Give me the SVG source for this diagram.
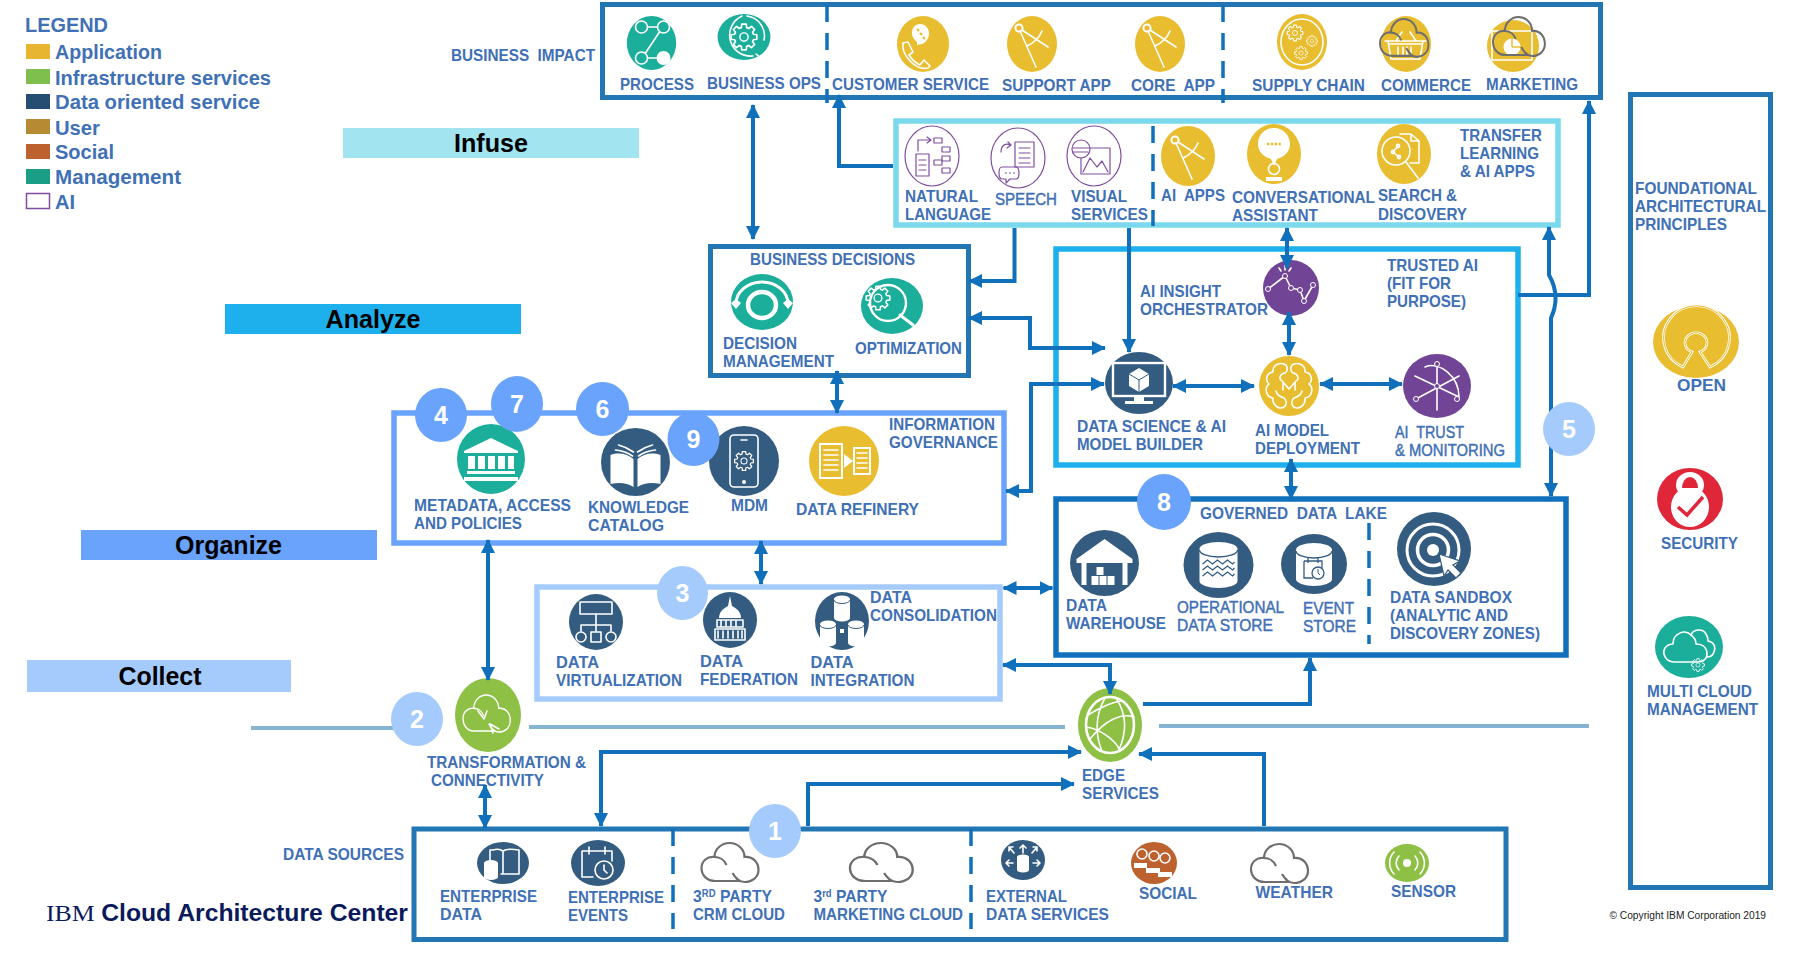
<svg xmlns="http://www.w3.org/2000/svg" width="1802" height="962" viewBox="0 0 1802 962">
<style>
text{font-family:"Liberation Sans",Arial,sans-serif;white-space:pre}
.t{font-size:16.5px;font-weight:700;fill:#4070b5}
.r{font-size:16.5px;font-weight:400;fill:#4070b5;stroke:#4070b5;stroke-width:.45}
.lg{font-size:20px;font-weight:700;fill:#4070b5}
.b{font-size:26px;font-weight:700;fill:#000;text-anchor:middle}
.n{font-size:25px;font-weight:700;fill:#fff;text-anchor:middle}
.box{fill:#fff;stroke:#2376b4;stroke-width:5}
.boxn{fill:none;stroke-width:5.5}
.dv{fill:none;stroke:#1070bb;stroke-width:3.5;stroke-dasharray:17 11}
.w{fill:none;stroke:#fff;stroke-width:1.6;stroke-linecap:round;stroke-linejoin:round}
.wt{fill:none;stroke:#fff;stroke-width:3;stroke-linecap:round;stroke-linejoin:round}
.wf{fill:#fff}
.p{fill:none;stroke:#7f4ea0;stroke-width:1.2;stroke-linecap:round;stroke-linejoin:round}
.g{fill:none;stroke:#6e6e6e;stroke-width:2.2}
.y{fill:#e9bd30}.tl{fill:#1bae9a}.dk{fill:#335c80}.pu{fill:#714496}.gn{fill:#8dc044}
.c{fill:none;stroke:#1070bb;stroke-width:4;stroke-linejoin:miter}
.a{marker-end:url(#ah)}
.d{marker-start:url(#ah);marker-end:url(#ah)}
.rule{fill:none;stroke:#85b3d3;stroke-width:4}
</style>
<defs>
<marker id="ah" markerUnits="userSpaceOnUse" markerWidth="15" markerHeight="15" refX="13" refY="7.5" orient="auto-start-reverse"><path d="M0 .5L14 7.5L0 14.5z" fill="#1070bb"/></marker>
<g id="cloud"><path d="M14 38C5 38 0 32 0 25C0 18 6 13 13 14C13 6 20 0 28 0C36 0 43 6 43 14C51 13 57 19 57 27C57 34 51 39 43 39C37 39 34 35 31 30M13 14C18 14 23 17 25 22M14 38L38 38"/></g>
<g id="gear"><path fill="none" stroke="#fff" stroke-width="1.3" stroke-linejoin="round" d="M7.2-2.1L9.85-1.74V1.74L7.2 2.1L6.56 3.64L8.19 5.74L5.74 8.19L3.64 6.56L2.07 7.21L1.74 9.85H-1.74L-2.07 7.21L-3.64 6.56L-5.74 8.19L-8.19 5.74L-6.56 3.64L-7.2 2.1L-9.85 1.74V-1.74L-7.2-2.1L-6.56-3.64L-8.19-5.74L-5.74-8.19L-3.64-6.56L-2.07-7.21L-1.74-9.85H1.74L2.07-7.21L3.64-6.56L5.74-8.19L8.19-5.74L6.56-3.64z"/><circle r="3.2" fill="none" stroke="#fff" stroke-width="1.1"/></g>
<g id="compass"><circle cx="-13" cy="-16" r="3.6" fill="none" stroke="#fff" stroke-width="2"/><path class="w" d="M-12-13L4 23M-10-14L16 3M10-13Q6-3-5 2"/></g>
</defs>

<g id="legend">
<text class="lg" x="25" y="32" textLength="83" lengthAdjust="spacingAndGlyphs">LEGEND</text>
<rect x="26" y="44" width="24" height="15" fill="#e8b530"/><text class="lg" x="55" y="59" textLength="107" lengthAdjust="spacingAndGlyphs">Application</text>
<rect x="26" y="69" width="24" height="15" fill="#7fbf4d"/><text class="lg" x="55" y="85" textLength="216" lengthAdjust="spacingAndGlyphs">Infrastructure services</text>
<rect x="26" y="94" width="24" height="15" fill="#264e73"/><text class="lg" x="55" y="109" textLength="205" lengthAdjust="spacingAndGlyphs">Data oriented service</text>
<rect x="26" y="119" width="24" height="15" fill="#b58a33"/><text class="lg" x="55" y="135" textLength="45" lengthAdjust="spacingAndGlyphs">User</text>
<rect x="26" y="144" width="24" height="15" fill="#bd612f"/><text class="lg" x="55" y="159" textLength="59" lengthAdjust="spacingAndGlyphs">Social</text>
<rect x="26" y="169" width="24" height="15" fill="#1a9e85"/><text class="lg" x="55" y="184" textLength="126" lengthAdjust="spacingAndGlyphs">Management</text>
<rect x="26.5" y="193.5" width="23" height="15" fill="#fff" stroke="#7f4ea0" stroke-width="1.5"/><text class="lg" x="55" y="209" textLength="20" lengthAdjust="spacingAndGlyphs">AI</text>
</g>

<g id="bands">
<rect x="343" y="128" width="296" height="30" fill="#a2e5f1"/><text class="b" x="491" y="152" textLength="74" lengthAdjust="spacingAndGlyphs">Infuse</text>
<rect x="225" y="304" width="296" height="30" fill="#1eb0ec"/><text class="b" x="373" y="328" textLength="95" lengthAdjust="spacingAndGlyphs">Analyze</text>
<rect x="81" y="530" width="296" height="30" fill="#6aa3fb"/><text class="b" x="228.500" y="554" textLength="107" lengthAdjust="spacingAndGlyphs">Organize</text>
<rect x="27" y="660" width="264" height="32" fill="#a5cbfd"/><text class="b" x="160" y="685" textLength="83" lengthAdjust="spacingAndGlyphs">Collect</text>
</g>

<g id="rules">
<path class="rule" d="M251 728H393M529 727H1065M1159 726H1589"/>
</g>

<g id="container-business-impact">
<rect class="box" x="602.5" y="4.5" width="998" height="93"/>
<path class="dv" d="M827 5V103M1223 5V103"/>
<text class="t" x="451" y="61" textLength="144" lengthAdjust="spacingAndGlyphs">BUSINESS  IMPACT</text>
</g>
<g id="container-ai-services">
<rect class="boxn" x="896" y="121" width="662" height="104" fill="#fff" stroke="#7bd9ed"/>
<path class="dv" d="M1153 126V226"/>
<text class="t" x="1460" y="141" textLength="82" lengthAdjust="spacingAndGlyphs">TRANSFER</text>
<text class="t" x="1460" y="159" textLength="79" lengthAdjust="spacingAndGlyphs">LEARNING</text>
<text class="t" x="1460" y="177" textLength="75" lengthAdjust="spacingAndGlyphs">&amp; AI APPS</text>
</g>
<g id="container-business-decisions">
<rect class="box" x="710.5" y="246.500" width="258" height="129"/>
<text class="t" x="750" y="265" textLength="165" lengthAdjust="spacingAndGlyphs">BUSINESS DECISIONS</text>
</g>
<g id="container-information-governance">
<rect class="boxn" x="394" y="413" width="610" height="130" fill="#fff" stroke="#6aa3fb"/>
<text class="t" x="889" y="430" textLength="106" lengthAdjust="spacingAndGlyphs">INFORMATION</text>
<text class="t" x="889" y="448" textLength="109" lengthAdjust="spacingAndGlyphs">GOVERNANCE</text>
</g>
<g id="container-data-consolidation">
<rect class="boxn" x="537" y="587" width="463" height="112" fill="#fff" stroke="#a5cbfd"/>
<text class="t" x="870" y="603" textLength="42" lengthAdjust="spacingAndGlyphs">DATA</text>
<text class="t" x="870" y="621" textLength="127" lengthAdjust="spacingAndGlyphs">CONSOLIDATION</text>
</g>
<g id="container-trusted-ai">
<rect class="boxn" x="1056" y="249" width="462" height="216" fill="#fff" stroke="#1eb0ec"/>
<text class="t" x="1387" y="271" textLength="91" lengthAdjust="spacingAndGlyphs">TRUSTED AI</text>
<text class="t" x="1387" y="289" textLength="64" lengthAdjust="spacingAndGlyphs">(FIT FOR</text>
<text class="t" x="1387" y="307" textLength="79" lengthAdjust="spacingAndGlyphs">PURPOSE)</text>
</g>
<g id="container-governed-data-lake">
<rect class="boxn" x="1056" y="499" width="510" height="156" fill="#fff" stroke="#1070bb"/>
<path class="dv" d="M1369 523V644"/>
<text class="t" x="1200" y="519" textLength="187" lengthAdjust="spacingAndGlyphs">GOVERNED  DATA  LAKE</text>
</g>
<g id="container-data-sources">
<rect class="box" x="414" y="829" width="1092" height="110.5"/>
<path class="dv" d="M673 829V929M971 829V929"/>
<text class="t" x="283" y="860" textLength="121" lengthAdjust="spacingAndGlyphs">DATA SOURCES</text>
</g>
<g id="container-foundational">
<rect class="box" x="1630.5" y="94.5" width="140" height="793"/>
<text class="t" x="1635" y="194" textLength="122" lengthAdjust="spacingAndGlyphs">FOUNDATIONAL</text>
<text class="t" x="1635" y="212" textLength="131" lengthAdjust="spacingAndGlyphs">ARCHITECTURAL</text>
<text class="t" x="1635" y="230" textLength="92" lengthAdjust="spacingAndGlyphs">PRINCIPLES</text>
</g>

<g id="node-process"><ellipse class="tl" cx="651.5" cy="43" rx="24.7" ry="27"/>
<g transform="translate(651.5 43)"><circle class="w" cx="-10" cy="-16" r="6"/><circle class="w" cx="12" cy="-16" r="6"/><circle class="w" cx="-10" cy="15" r="6"/><circle class="wf" cx="12" cy="15" r="7"/><path class="w" d="M-4-16H6M8-11L-6 10M-4 15H5"/></g>
<text class="t" x="620" y="90" textLength="74" lengthAdjust="spacingAndGlyphs">PROCESS</text></g>
<g id="node-business-ops"><ellipse class="tl" cx="744" cy="37" rx="26.5" ry="23"/>
<g transform="translate(744 37)"><path class="w" stroke-width="2" d="M-2-21A21 21 0 0 0 9 19M3-21A20 20 0 0 1 20 3M12 17L17 21"/><path class="wf" d="M0 0"/><use href="#gear" transform="scale(1.3)"/></g>
<text class="t" x="707" y="89" textLength="114" lengthAdjust="spacingAndGlyphs">BUSINESS OPS</text></g>
<g id="node-customer-service"><ellipse class="y" cx="923" cy="44" rx="26" ry="28"/>
<g transform="translate(923 44)"><path class="w" d="M-20-1L-15-2L-10 8L-14 11C-11 16-7 19-3 21L1 16L7 22L5 24C-8 27-22 10-20-1z"/><path class="wf" d="M-3-20C3-20 6-15 6-10C6-5 2-1-1 0L-6 1L-6-2C-10-5-11-9-11-11C-11-16-8-20-3-20z"/><path d="M-6-15l2 2M-3-11l2 2M0-7l2 2" stroke="#e9bd30" stroke-width="2.2"/></g>
<text class="t" x="832" y="90" textLength="157" lengthAdjust="spacingAndGlyphs">CUSTOMER SERVICE</text></g>
<g id="node-support-app"><ellipse class="y" cx="1032" cy="44" rx="25" ry="28"/><use href="#compass" x="1032" y="44"/>
<text class="t" x="1002" y="91" textLength="109" lengthAdjust="spacingAndGlyphs">SUPPORT APP</text></g>
<g id="node-core-app"><ellipse class="y" cx="1160" cy="44" rx="25" ry="28"/><use href="#compass" x="1160" y="44"/>
<text class="t" x="1131" y="91" textLength="84" lengthAdjust="spacingAndGlyphs">CORE  APP</text></g>
<g id="node-supply-chain"><ellipse class="y" cx="1302" cy="42" rx="25" ry="28"/>
<g transform="translate(1302 42)"><ellipse class="w" rx="21" ry="23"/><use href="#gear" transform="translate(-7 -9) scale(.8)"/><use href="#gear" transform="translate(10 -1) scale(.55)"/><use href="#gear" transform="translate(-1 11) scale(.65)"/></g>
<text class="t" x="1252" y="91" textLength="113" lengthAdjust="spacingAndGlyphs">SUPPLY CHAIN</text></g>
<g id="node-commerce"><ellipse class="y" cx="1406" cy="44" rx="25" ry="28"/>
<g transform="translate(1406 44)"><path class="w" d="M-21-3H20M-18-3L-15 15H14L17-3M-10-3L-4-12M10-3L4-12M-17 0H16M-3 3V11M1 3V11M5 3V11M-8 3V11"/></g>
<use href="#cloud" class="g" transform="translate(1380 19) scale(.85 .97)"/>
<text class="t" x="1381" y="91" textLength="90" lengthAdjust="spacingAndGlyphs">COMMERCE</text></g>
<g id="node-marketing"><ellipse class="y" cx="1513" cy="46" rx="26" ry="26"/>
<path class="w" d="M1492 31H1532V60H1492z"/><circle class="wf" cx="1512" cy="47" r="8.500"/><path d="M1512 47V38M1512 47H1521" stroke="#e9bd30" stroke-width="1.5"/>
<use href="#cloud" class="g" transform="translate(1493 17) scale(.91 1)"/>
<text class="t" x="1486" y="90" textLength="92" lengthAdjust="spacingAndGlyphs">MARKETING</text></g>

<g id="node-natural-language"><ellipse cx="932" cy="156" rx="27" ry="30" fill="#fff" stroke="#7f4ea0" stroke-width="1.2"/>
<g class="p" transform="translate(932 156)"><path class="p" d="M-14-5V-16H-2M-5-19L-1-16L-5-13M-16-2H-3V20H-16zM-13 4H-6M-13 9H-6M-13 14H-6"/><rect class="p" x="2" y="-18" width="8" height="5"/><rect class="p" x="10" y="-9" width="8" height="5"/><rect class="p" x="10" y="0" width="8" height="5"/><rect class="p" x="2" y="4" width="8" height="5"/><rect class="p" x="10" y="12" width="8" height="5"/></g>
<text class="t" x="905" y="202" textLength="73" lengthAdjust="spacingAndGlyphs">NATURAL</text>
<text class="t" x="905" y="220" textLength="86" lengthAdjust="spacingAndGlyphs">LANGUAGE</text></g>
<g id="node-speech"><ellipse cx="1018" cy="158" rx="27" ry="30" fill="#fff" stroke="#7f4ea0" stroke-width="1.2"/>
<g transform="translate(1018 158)"><path class="p" d="M-3-16H16V9H-3zM1-10H12M1-5H12M1 0H12M1 5H12"/><path class="p" d="M-17-6C-17-13-12-15-8-13M-10-16L-7-13L-11-10M-16 9H-2C2 9 2 21-2 21H-8L-12 25V21H-16C-20 21-20 9-16 9z"/><path d="M-13 15h2M-9 15h2M-5 15h2" stroke="#7f4ea0" stroke-width="1.2"/></g>
<text class="r" x="995" y="205" textLength="62" lengthAdjust="spacingAndGlyphs">SPEECH</text></g>
<g id="node-visual-services"><ellipse cx="1094" cy="156" rx="27" ry="30" fill="#fff" stroke="#7f4ea0" stroke-width="1.2"/>
<g transform="translate(1094 156)"><path class="p" d="M-13-8H16V18H-13zM-11 16L-4 2L3 11L8 5L14 16"/><circle cx="-13" cy="-7" r="9" fill="#fff" stroke="#7f4ea0" stroke-width="1.2"/><path class="p" d="M-21-8H-5M-21-4H-6"/></g>
<text class="t" x="1071" y="202" textLength="56" lengthAdjust="spacingAndGlyphs">VISUAL</text>
<text class="t" x="1071" y="220" textLength="77" lengthAdjust="spacingAndGlyphs">SERVICES</text></g>
<g id="node-ai-apps"><ellipse class="y" cx="1188" cy="156" rx="27" ry="30"/><use href="#compass" x="1188" y="156"/>
<text class="t" x="1161" y="201" textLength="64" lengthAdjust="spacingAndGlyphs">AI  APPS</text></g>
<g id="node-conversational"><ellipse class="y" cx="1274" cy="154" rx="27" ry="30"/>
<g transform="translate(1274 154)"><path class="wf" d="M-16-10C-16-20-8-26 0-26C10-26 16-18 16-10C16-2 10 3 3 5L0 12L-3 5C-10 3-16-2-16-10z"/><path d="M-7-10h14" stroke="#e9bd30" stroke-width="2.6" stroke-dasharray="2.4 1.4"/><circle class="w" cy="15" r="5.5"/><path class="wf" d="M-8 23H8V27H-8z"/></g>
<text class="t" x="1232" y="203" textLength="143" lengthAdjust="spacingAndGlyphs">CONVERSATIONAL</text>
<text class="t" x="1232" y="221" textLength="86" lengthAdjust="spacingAndGlyphs">ASSISTANT</text></g>
<g id="node-search"><ellipse class="y" cx="1404" cy="154" rx="27" ry="30"/>
<g transform="translate(1404 154)"><path class="w" d="M-4-20H7L15-13V9H6M7-20V-13H15"/><circle class="w" cx="-8" cy="-3" r="14"/><path class="w" d="M2 8L14 24M-6-8L-11-2L-5 3"/><circle class="w" cx="-6" cy="-8" r="1.6"/><circle class="w" cx="-11" cy="-2" r="1.6"/><circle class="w" cx="-5" cy="3" r="1.6"/></g>
<text class="t" x="1378" y="201" textLength="79" lengthAdjust="spacingAndGlyphs">SEARCH &amp;</text>
<text class="t" x="1378" y="220" textLength="89" lengthAdjust="spacingAndGlyphs">DISCOVERY</text></g>

<g id="node-decision-management"><ellipse class="tl" cx="762" cy="302" rx="31" ry="28"/>
<g transform="translate(762 302)"><ellipse cy="3" rx="14" ry="13" fill="none" stroke="#fff" stroke-width="4.5"/><path fill="none" stroke="#fff" stroke-width="3" d="M-26 2A26 22 0 0 1 26 2"/><path class="wf" d="M-31 1H-21L-26 7zM-31 1L-26-3L-21 1zM31 1H21L26 7zM31 1L26-3L21 1z"/></g>
<text class="t" x="723" y="349" textLength="74" lengthAdjust="spacingAndGlyphs">DECISION</text>
<text class="t" x="723" y="367" textLength="111" lengthAdjust="spacingAndGlyphs">MANAGEMENT</text></g>
<g id="node-optimization"><ellipse class="tl" cx="892" cy="306" rx="31" ry="28"/>
<g transform="translate(892 306)"><circle cx="-4" cy="-3" r="18" fill="none" stroke="#fff" stroke-width="2.4"/><path class="wt" d="M8 9L21 19" stroke-width="5"/><use href="#gear" transform="translate(-14 -8) scale(1.2)"/></g>
<text class="t" x="855" y="354" textLength="107" lengthAdjust="spacingAndGlyphs">OPTIMIZATION</text></g>

<g id="node-metadata"><ellipse class="tl" cx="491" cy="459" rx="34" ry="35"/>
<g transform="translate(491 459)"><path class="wf" d="M0-21L27-8V-6H-27V-8zM-24 12H24V15H-24zM-27 18H27V22H-27z"/><path class="wf" d="M-23-3h7V10h-7zM-13-3h7V10h-7zM-3-3h7V10h-7zM7-3h7V10h-7zM17-3h6V10h-6z"/></g>
<text class="t" x="414" y="511" textLength="157" lengthAdjust="spacingAndGlyphs">METADATA, ACCESS</text>
<text class="t" x="414" y="529" textLength="108" lengthAdjust="spacingAndGlyphs">AND POLICIES</text></g>
<g id="node-knowledge-catalog"><ellipse class="dk" cx="635.5" cy="462" rx="34.5" ry="34"/>
<g transform="translate(635.5 462)"><path class="wf" d="M-25-7C-16-10-8-8-2-3V25C-8 21-16 20-25 22zM25-7C16-10 8-8 2-3V25C8 21 16 20 25 22z"/><path class="w" d="M-17-17Q-9-15-2-10M17-17Q9-15 2-10M-20-12Q-10-11-3-6M20-12Q10-11 3-6"/></g>
<text class="t" x="588" y="513" textLength="101" lengthAdjust="spacingAndGlyphs">KNOWLEDGE</text>
<text class="t" x="588" y="531" textLength="76" lengthAdjust="spacingAndGlyphs">CATALOG</text></g>
<g id="node-mdm"><ellipse class="dk" cx="744" cy="461" rx="35" ry="35"/>
<g transform="translate(744 461)"><rect class="w" x="-14" y="-26" width="28" height="52" rx="4" stroke-width="2"/><path class="w" d="M-3-21H3"/><circle class="wf" cy="21" r="2"/><use href="#gear" transform="scale(.95)"/></g>
<text class="t" x="731" y="511" textLength="37" lengthAdjust="spacingAndGlyphs">MDM</text></g>
<g id="node-data-refinery"><ellipse class="y" cx="844" cy="461" rx="35" ry="35"/>
<g transform="translate(844 461)"><rect x="-24" y="-17" width="22" height="34" fill="none" stroke="#fff" stroke-width="2"/><rect x="10" y="-13" width="16" height="26" fill="none" stroke="#fff" stroke-width="2"/><path class="wf" d="M0-7L9 0L0 7z"/><path class="w" d="M-20-11H-6M-20-6H-6M-20-1H-6M-20 4H-6M-20 9H-6M13-8H23M13-3H23M13 2H23M13 7H23"/></g>
<text class="t" x="796" y="515" textLength="123" lengthAdjust="spacingAndGlyphs">DATA REFINERY</text></g>

<g id="node-data-virtualization"><ellipse class="dk" cx="596" cy="622" rx="27" ry="28"/>
<g transform="translate(596 622)"><rect class="w" x="-16" y="-20" width="32" height="12" stroke-width="2"/><path class="w" d="M0-8V3M-15 3H15M-15 3V9M0 3V9M15 3V9" stroke-width="2"/><circle class="w" cx="-15" cy="15" r="5" stroke-width="2"/><rect class="w" x="-5" y="10" width="10" height="10" stroke-width="2"/><circle class="w" cx="15" cy="15" r="5" stroke-width="2"/></g>
<text class="t" x="556" y="668" textLength="43" lengthAdjust="spacingAndGlyphs">DATA</text>
<text class="t" x="556" y="686" textLength="126" lengthAdjust="spacingAndGlyphs">VIRTUALIZATION</text></g>
<g id="node-data-federation"><ellipse class="dk" cx="730" cy="620" rx="27" ry="28"/>
<g transform="translate(730 620)"><path class="wf" d="M0-24L2-14C8-11 11-7 11-2H-11C-11-7-8-11-2-14z"/><path class="w" d="M-13 0H13V7H-13zM-9 1V6M-4 1V6M1 1V6M6 1V6M-15 9H15V20H-15zM-12 11V18M-7 11V18M-2 11V18M3 11V18M8 11V18M12 11V18"/></g>
<text class="t" x="700" y="667" textLength="43" lengthAdjust="spacingAndGlyphs">DATA</text>
<text class="t" x="700" y="685" textLength="98" lengthAdjust="spacingAndGlyphs">FEDERATION</text></g>
<g id="node-data-integration"><ellipse class="dk" cx="842" cy="621" rx="27" ry="29"/>
<g transform="translate(842 621)"><path class="wf" d="M-8-22A8 3.5 0 0 1 8-22V-3A8 3.5 0 0 1-8-3zM-22 3A8 3.5 0 0 1-6 3V22A8 3.5 0 0 1-22 22zM6 3A8 3.5 0 0 1 22 3V22A8 3.5 0 0 1 6 22z"/><path d="M-2 8H2V12H-2z" class="wf"/><path d="M-8-21A8 3.5 0 0 0 8-21M-22 4A8 3.5 0 0 0-6 4M6 4A8 3.5 0 0 0 22 4" fill="none" stroke="#335c80"/></g>
<text class="t" x="810.5" y="668" textLength="43" lengthAdjust="spacingAndGlyphs">DATA</text>
<text class="t" x="810.5" y="686" textLength="104" lengthAdjust="spacingAndGlyphs">INTEGRATION</text></g>

<g id="node-ai-insight-orchestrator"><ellipse class="pu" cx="1291" cy="288" rx="28" ry="28"/>
<g transform="translate(1291 288)"><path class="w" d="M-23 1L-6-12L0 0L9 2L13 13L22-3"/><circle class="pu" cx="-23" cy="1" r="2.500" stroke="#fff"/><circle class="pu" cx="-6" cy="-12" r="2.500" stroke="#fff"/><circle class="pu" cx="0" cy="0" r="2.500" stroke="#fff"/><circle class="pu" cx="9" cy="2" r="2.500" stroke="#fff"/><circle class="pu" cx="13" cy="13" r="2.500" stroke="#fff"/><circle class="pu" cx="22" cy="-3" r="2.500" stroke="#fff"/><path class="w" stroke-width="1.2" d="M-10-17L-12-20M-6-18V-22M-2-17L0-20"/></g>
<text class="t" x="1140" y="297" textLength="81" lengthAdjust="spacingAndGlyphs">AI INSIGHT</text>
<text class="t" x="1140" y="315" textLength="128" lengthAdjust="spacingAndGlyphs">ORCHESTRATOR</text></g>
<g id="node-data-science"><ellipse class="dk" cx="1139" cy="383" rx="34" ry="31"/>
<g transform="translate(1139 383)"><rect x="-26" y="-20" width="52" height="33" fill="none" stroke="#fff" stroke-width="2.4"/><path class="wf" d="M-5 14H5V18H14V21H-14V18H-5zM0-15L10-9V3L0 9L-10 3V-9z"/><path d="M0-3V9M0-3L-10-9M0-3L10-9" stroke="#335c80" fill="none"/></g>
<text class="t" x="1077" y="432" textLength="149" lengthAdjust="spacingAndGlyphs">DATA SCIENCE &amp; AI</text>
<text class="t" x="1077" y="450" textLength="126" lengthAdjust="spacingAndGlyphs">MODEL BUILDER</text></g>
<g id="node-ai-model"><ellipse class="y" cx="1289" cy="386" rx="30" ry="30"/>
<g transform="translate(1289 386)"><path class="w" stroke-width="2" d="M-5-22C-12-24-17-19-16-14C-23-13-24-5-20-2C-25 2-23 11-16 12C-17 19-10 24-5 21M5-22C12-24 17-19 16-14C23-13 24-5 20-2C25 2 23 11 16 12C17 19 10 24 5 21M-5-22C-1-21-1-15-4-13C-10-12-10-6-7-5M5-22C1-21 1-15 4-13C10-12 10-6 7-5M-5 21C-2 19-2 14-5 12C-11 10-12 8-13 5M5 21C2 19 2 14 5 12C11 10 12 8 13 5M-6 4V-4L0 3L6-4V4"/></g>
<text class="t" x="1255" y="436" textLength="74" lengthAdjust="spacingAndGlyphs">AI MODEL</text>
<text class="t" x="1255" y="454" textLength="105" lengthAdjust="spacingAndGlyphs">DEPLOYMENT</text></g>
<g id="node-ai-trust"><ellipse class="pu" cx="1437" cy="386" rx="34" ry="32"/>
<g transform="translate(1437 386)"><path class="w" d="M0-22V24M-22-10L22 11M22-10L-21 13M-12-19C2-25 22-10 22 11" stroke-width="1.8"/><circle class="pu" cy="-22" r="2.500" stroke="#fff"/><circle class="pu" r="2.500" stroke="#fff"/><circle class="pu" cx="-21" cy="13" r="2.500" stroke="#fff"/><circle class="pu" cx="20" cy="13" r="2.500" stroke="#fff"/></g>
<text class="r" x="1395" y="438" textLength="69" lengthAdjust="spacingAndGlyphs">AI  TRUST</text>
<text class="r" x="1395" y="456" textLength="110" lengthAdjust="spacingAndGlyphs">&amp; MONITORING</text></g>

<g id="node-data-warehouse"><ellipse class="dk" cx="1104.5" cy="563" rx="34.5" ry="33"/>
<g transform="translate(1104.5 563)"><path class="wf" d="M0-24L28-4V0H23V22H18V0H-18V22H-23V0H-28V-4z"/><path class="wf" d="M-8 4h7v8h-7zM-13 13h7v9h-7zM-5 13h7v9h-7zM3 13h7v9h-7zM11 15h0"/></g>
<text class="t" x="1066" y="611" textLength="41" lengthAdjust="spacingAndGlyphs">DATA</text>
<text class="t" x="1066" y="629" textLength="100" lengthAdjust="spacingAndGlyphs">WAREHOUSE</text></g>
<g id="node-ods"><ellipse class="dk" cx="1218.5" cy="565" rx="35" ry="33"/>
<g transform="translate(1218.5 565)"><path class="wf" d="M-19-16A19 7 0 0 1 19-16V16A19 7 0 0 1-19 16z"/><path d="M-19-15A19 7 0 0 0 19-15" fill="none" stroke="#335c80" stroke-width="1.4"/><path d="M-16-1l5-4 5 4 5-4 5 4 5-4 5 4 2-2M-16 5l5-4 5 4 5-4 5 4 5-4 5 4 2-2M-16 11l5-4 5 4 5-4 5 4 5-4 5 4 2-2" fill="none" stroke="#335c80" stroke-width="1.3"/></g>
<text class="r" x="1177" y="613" textLength="107" lengthAdjust="spacingAndGlyphs">OPERATIONAL</text>
<text class="r" x="1177" y="631" textLength="96" lengthAdjust="spacingAndGlyphs">DATA STORE</text></g>
<g id="node-event-store"><ellipse class="dk" cx="1314" cy="564" rx="33" ry="30"/>
<g transform="translate(1314 564)"><path class="wf" d="M-18-14A18 7 0 0 1 18-14V15A18 7 0 0 1-18 15z"/><path d="M-18-13A18 7 0 0 0 18-13" fill="none" stroke="#335c80" stroke-width="1.4"/><path d="M-10-3H8V4M-10-3V14H-1M-6-6V-1M4-6V-1" fill="none" stroke="#335c80" stroke-width="1.3"/><circle cx="4" cy="9" r="6" fill="#fff" stroke="#335c80" stroke-width="1.3"/><path d="M4 5V9L6 11" fill="none" stroke="#335c80"/></g>
<text class="r" x="1303" y="614" textLength="51" lengthAdjust="spacingAndGlyphs">EVENT</text>
<text class="r" x="1303" y="632" textLength="53" lengthAdjust="spacingAndGlyphs">STORE</text></g>
<g id="node-data-sandbox"><ellipse class="dk" cx="1434" cy="549" rx="37" ry="37"/>
<g transform="translate(1433 550)" fill="none" stroke="#fff"><circle r="26" stroke-width="3"/><circle r="15.500" stroke-width="3.500"/><circle class="wf" stroke="none" r="6"/><path class="wf" stroke="#335c80" stroke-width="1.2" d="M6 4L27 11L20 15L28 23L23 28L15 20L11 26z"/></g>
<text class="t" x="1390" y="603" textLength="122" lengthAdjust="spacingAndGlyphs">DATA SANDBOX</text>
<text class="t" x="1390" y="621" textLength="118" lengthAdjust="spacingAndGlyphs">(ANALYTIC AND</text>
<text class="t" x="1390" y="639" textLength="150" lengthAdjust="spacingAndGlyphs">DISCOVERY ZONES)</text></g>

<g id="node-transformation"><ellipse class="gn" cx="488" cy="715" rx="33" ry="37"/>
<use href="#cloud" fill="none" stroke="#fff" stroke-width="1.6" transform="translate(463 695) scale(.83 .95)"/>
<path class="w" d="M478 711L484 719L487 711M493 733L490 724L499 729"/>
<text class="t" x="427" y="768" textLength="159" lengthAdjust="spacingAndGlyphs">TRANSFORMATION &amp;</text>
<text class="t" x="431" y="786" textLength="113" lengthAdjust="spacingAndGlyphs">CONNECTIVITY</text></g>
<g id="node-edge-services"><ellipse class="gn" cx="1110" cy="725" rx="32" ry="37"/>
<g transform="translate(1110 725)"><ellipse rx="24" ry="28" fill="none" stroke="#fff" stroke-width="2.6"/><path class="w" stroke-width="2" d="M-22-10C-10-18 6-24 12-24M-24 2C-10 4 4 14 10 25M-5-27C-16-8-14 12-8 26M6-27C16-12 18 6 8 27M-20 14C-4-6 12-12 24-8"/></g>
<text class="t" x="1082" y="781" textLength="43" lengthAdjust="spacingAndGlyphs">EDGE</text>
<text class="t" x="1082" y="799" textLength="77" lengthAdjust="spacingAndGlyphs">SERVICES</text></g>

<g id="node-enterprise-data"><ellipse class="dk" cx="503" cy="863" rx="26" ry="21"/>
<g transform="translate(503 863)"><path class="w" d="M-10-13Q-4-15 0-12Q4-15 16-13V11H-2M0-12V10M-13-1V-13H-10"/><path class="wf" d="M-19 0A7 3 0 0 1-5 0V14A7 3 0 0 1-19 14z"/></g>
<text class="t" x="440" y="902" textLength="97" lengthAdjust="spacingAndGlyphs">ENTERPRISE</text>
<text class="t" x="440" y="920" textLength="42" lengthAdjust="spacingAndGlyphs">DATA</text></g>
<g id="node-enterprise-events"><ellipse class="dk" cx="598" cy="863" rx="27" ry="23"/>
<g transform="translate(598 863)"><path class="w" stroke-width="2" d="M-16-12H14V-2M-16-12V14H-5M-9-16V-9M7-16V-9"/><circle class="w" cx="6" cy="7" r="9" stroke-width="2"/><path class="w" d="M6 2V7L9 10"/></g>
<text class="t" x="568" y="903" textLength="96" lengthAdjust="spacingAndGlyphs">ENTERPRISE</text>
<text class="t" x="568" y="921" textLength="60" lengthAdjust="spacingAndGlyphs">EVENTS</text></g>
<g id="node-crm-cloud"><use href="#cloud" class="g" transform="translate(701.5 843)"/>
<text class="t" x="693" y="902" textLength="79" lengthAdjust="spacingAndGlyphs">3<tspan font-size="10" dy="-5">RD</tspan><tspan dy="5"> PARTY</tspan></text>
<text class="t" x="693" y="920" textLength="92" lengthAdjust="spacingAndGlyphs">CRM CLOUD</text></g>
<g id="node-marketing-cloud"><use href="#cloud" class="g" transform="translate(850 843) scale(1.1 1)"/>
<text class="t" x="813.5" y="902" textLength="74" lengthAdjust="spacingAndGlyphs">3<tspan font-size="10" dy="-5">rd</tspan><tspan dy="5"> PARTY</tspan></text>
<text class="t" x="813.5" y="920" textLength="149.5" lengthAdjust="spacingAndGlyphs">MARKETING CLOUD</text></g>
<g id="node-external-data"><ellipse class="dk" cx="1023" cy="860" rx="22" ry="20"/>
<g transform="translate(1023 860)"><path class="wf" d="M-6-3A6 2.5 0 0 1 6-3V10A6 2.5 0 0 1-6 10z"/><path class="w" d="M0-7V-15M-3-12L0-15L3-12M-9-7L-14-13M-14-9V-13H-10M9-7L14-13M14-9V-13H10M-10 3H-17M-14 0L-17 3L-14 6M10 3H17M14 0L17 3L14 6"/></g>
<text class="t" x="986" y="902" textLength="81" lengthAdjust="spacingAndGlyphs">EXTERNAL</text>
<text class="t" x="986" y="920" textLength="123" lengthAdjust="spacingAndGlyphs">DATA SERVICES</text></g>
<g id="node-social"><ellipse fill="#bd612f" cx="1154" cy="863" rx="23" ry="21"/>
<g transform="translate(1154 863)"><circle class="w" cx="-12" cy="-9" r="5"/><circle class="w" cx="0" cy="-7" r="5"/><circle class="w" cx="11" cy="-5" r="5"/><path class="wf" d="M-20 0H-7V5H-20zM-8 5H6V10H-8zM4 9H18V14H4z"/></g>
<text class="t" x="1139" y="899" textLength="58" lengthAdjust="spacingAndGlyphs">SOCIAL</text></g>
<g id="node-weather"><use href="#cloud" class="g" transform="translate(1251 844)"/>
<text class="t" x="1255.5" y="898" textLength="77.5" lengthAdjust="spacingAndGlyphs">WEATHER</text></g>
<g id="node-sensor"><ellipse class="gn" cx="1407" cy="863" rx="22" ry="19"/>
<g transform="translate(1407 863)"><circle class="wf" r="4"/><path class="w" d="M-8-7A10 10 0 0 0-8 7M8-7A10 10 0 0 1 8 7M-13-11A16 16 0 0 0-13 11M13-11A16 16 0 0 1 13 11"/></g>
<text class="t" x="1391" y="897" textLength="65" lengthAdjust="spacingAndGlyphs">SENSOR</text></g>

<g id="node-open"><ellipse class="y" cx="1696" cy="342" rx="43" ry="36"/>
<path d="M1683 367A33 32 0 1 1 1710 367L1700 352A11 10 0 1 0 1692 352z" fill="none" stroke="#fff" stroke-width="2.600"/>
<path d="M1683 367A33 32 0 1 1 1710 367L1700 352A11 10 0 1 0 1692 352z" fill="none" stroke="#e9bd30" stroke-width="1"/>
<text class="t" x="1677" y="391" textLength="49" lengthAdjust="spacingAndGlyphs">OPEN</text></g>
<g id="node-security"><ellipse fill="#e0273a" cx="1690" cy="499" rx="33" ry="31"/>
<ellipse class="wf" cx="1690" cy="485" rx="14" ry="13"/><ellipse class="wf" cx="1690" cy="507" rx="19" ry="20"/><path d="M1682 488A8 11 0 0 1 1698 488z" fill="#e0273a"/>
<path d="M1678 507L1687 515L1703 497" fill="none" stroke="#e0273a" stroke-width="3.500"/>
<text class="t" x="1661" y="549" textLength="77" lengthAdjust="spacingAndGlyphs">SECURITY</text></g>
<g id="node-multi-cloud"><ellipse class="tl" cx="1689" cy="647" rx="34" ry="31"/>
<g transform="translate(1689 647)"><path class="w" stroke-width="2" d="M-14 15C-24 15-27 6-24 1C-21-3-18-3-16-3C-16-14-4-18 2-12C6-9 7-6 7-3C14-3 18 1 18 7C18 12 14 15 8 15H-14"/><path class="w" stroke-width="2" d="M2-12C4-18 14-19 17-13C19-10 19-7 19-6C25-5 27 0 25 5C24 8 21 10 18 10"/><use href="#gear" transform="translate(9 18) scale(.65)"/></g>
<text class="t" x="1647" y="697" textLength="105" lengthAdjust="spacingAndGlyphs">MULTI CLOUD</text>
<text class="t" x="1647" y="715" textLength="111" lengthAdjust="spacingAndGlyphs">MANAGEMENT</text></g>

<g id="connectors">
<path class="c d" d="M753 105V239"/>
<path class="c a" d="M893 166H839V95"/>
<path class="c a" d="M1014.5 228V281H969"/>
<path class="c a" d="M1129 228V352"/>
<path class="c d" d="M1287 228V268"/>
<path class="c d" d="M1289 312V355"/>
<path class="c d" d="M1173 386H1254"/>
<path class="c d" d="M1320 384H1402"/>
<path class="c d" d="M969 318H1030V348H1105"/>
<path class="c d" d="M1104 384H1031V491H1006"/>
<path class="c d" d="M837 371V413"/>
<path class="c d" d="M488 540V680"/>
<path class="c d" d="M761 541V584"/>
<path class="c d" d="M1003.5 588H1052.5"/>
<path class="c d" d="M1291 459V499"/>
<path class="c d" d="M1003 665H1110V694"/>
<path class="c a" d="M1143 704H1310V658"/>
<path class="c d" d="M485 785V828"/>
<path class="c d" d="M601 826V752H1081"/>
<path class="c a" d="M808 826V784H1074"/>
<path class="c a" d="M1264 826V754H1139"/>
<path class="c a" d="M1518 295H1589V101"/>
<path class="c d" d="M1551 496V318Q1561 296 1549 275V227"/>
</g>

<g id="badges">
<g id="badge-1"><ellipse cx="775" cy="831" rx="26" ry="27" fill="#a5cbfd"/><text class="n" x="775" y="840">1</text></g>
<g id="badge-2"><ellipse cx="417" cy="719" rx="26" ry="27" fill="#a5cbfd"/><text class="n" x="417" y="728">2</text></g>
<g id="badge-3"><ellipse cx="682.5" cy="593" rx="25.5" ry="27" fill="#a5cbfd"/><text class="n" x="682.5" y="602">3</text></g>
<g id="badge-4"><ellipse cx="441" cy="415" rx="26" ry="27" fill="#6aa3fb"/><text class="n" x="441" y="424">4</text></g>
<g id="badge-5"><ellipse cx="1569" cy="429" rx="26" ry="27" fill="#a5cbfd"/><text class="n" x="1569" y="438">5</text></g>
<g id="badge-6"><ellipse cx="602.5" cy="409" rx="26.5" ry="27" fill="#6aa3fb"/><text class="n" x="602.5" y="418">6</text></g>
<g id="badge-7"><ellipse cx="517" cy="404" rx="26" ry="28" fill="#6aa3fb"/><text class="n" x="517" y="413">7</text></g>
<g id="badge-8"><ellipse cx="1164" cy="502" rx="27" ry="28" fill="#6aa3fb"/><text class="n" x="1164" y="511">8</text></g>
<g id="badge-9"><ellipse cx="693.5" cy="439" rx="26" ry="27" fill="#6aa3fb"/><text class="n" x="693.5" y="448">9</text></g>
</g>

<g id="branding">
<text x="46" y="921" font-size="23" fill="#0a1a5c" textLength="362" lengthAdjust="spacingAndGlyphs"><tspan font-family="'Liberation Serif',serif" font-size="24">IBM </tspan><tspan font-weight="700">Cloud Architecture Center</tspan></text>
<text x="1609.5" y="919" font-size="10" fill="#222" textLength="156.5" lengthAdjust="spacingAndGlyphs">© Copyright IBM Corporation 2019</text>
</g>
</svg>
